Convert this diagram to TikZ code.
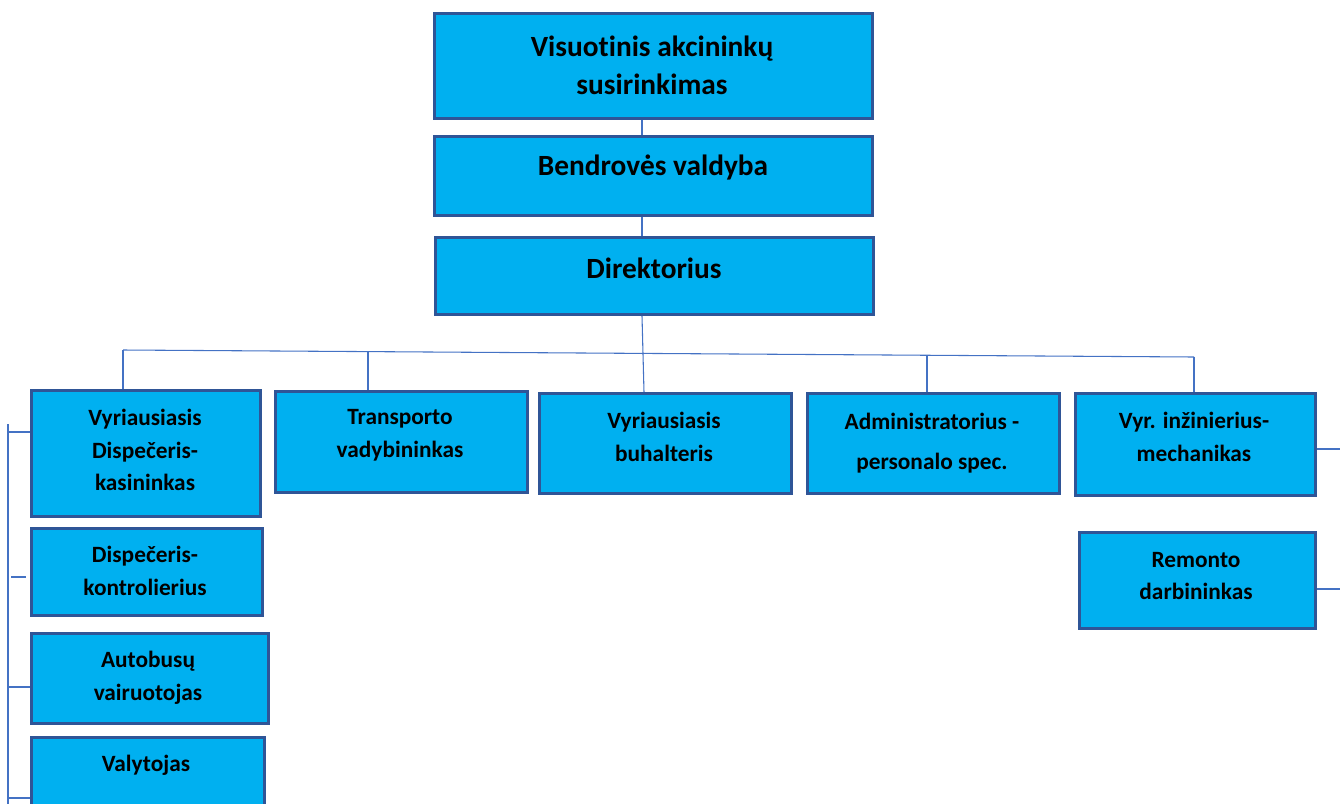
\documentclass[tikz,border=0pt]{standalone}
\usepackage{fontspec}
\setmainfont{Carlito}[RawFeature=-liga]
\usetikzlibrary{calc}

\definecolor{boxfill}{HTML}{00B0F0}
\definecolor{boxedge}{HTML}{2F5597}
\definecolor{linkblue}{HTML}{4472C4}

\tikzset{
  box/.style={draw=boxedge, line width=2.2pt, fill=boxfill, inner sep=0pt, anchor=north west},
  sz/.style 2 args={minimum width=#1*0.75pt, minimum height=#2*0.75pt},
  toptext/.style={font=\bfseries\fontsize{22}{28.5}\selectfont, align=center},
  subtext/.style={font=\bfseries\fontsize{17.5}{24.4}\selectfont, align=center},
  link/.style={draw=linkblue, line width=0.8pt}
}

\begin{document}
\begin{tikzpicture}[x=0.75pt,y=-0.75pt]
  \useasboundingbox (0,0) rectangle (1340,804);

  % top chain
  \node[box, sz={438}{105}] (vas) at (433,12) {};
  \node[box, sz={438}{79}]  (val) at (433,135) {};
  \node[box, sz={438}{77}]  (dir) at (434,236) {};
  \node[toptext] (vas-t) at (652,65)  {Visuotinis akcininkų\\susirinkimas};
  \node[toptext] (val-t) at (653,167) {Bendrovės valdyba};
  \node[toptext] (dir-t) at (654,268) {Direktorius};

  % second row
  \node[box, sz={229}{126}] (vdk) at (30,389)   {};
  \node[box, sz={252}{101}] (trv) at (274,390)  {};
  \node[box, sz={252}{100}] (buh) at (538,392)  {};
  \node[box, sz={252}{100}] (adm) at (806,392)  {};
  \node[box, sz={240}{102}] (vim) at (1074,392) {};
  \node[subtext] (vdk-t) at (145,450)  {Vyriausiasis\\Dispečeris-\\kasininkas};
  \node[subtext] (trv-t) at (400,435)  {Transporto\\vadybininkas};
  \node[subtext] (buh-t) at (664,437)  {Vyriausiasis\\buhalteris};
  \node[subtext, font=\bfseries\fontsize{17.5}{30}\selectfont] (adm-t) at (932,443) {Administratorius -\\personalo spec.};
  \node[subtext] (vim-t) at (1194,437) {Vyr. inžinierius-\\mechanikas};

  % left column
  \node[box, sz={231}{87}]  (dko) at (30,527)  {};
  \node[box, sz={237}{90}]  (aut) at (30,632)  {};
  \node[box, sz={233}{100}] (vly) at (30,736)  {};
  \node[subtext] (dko-t) at (145,571) {Dispečeris-\\kontrolierius};
  \node[subtext] (aut-t) at (148,678) {Autobusų\\vairuotojas};
  \node[subtext] (vly-t) at (146,765) {Valytojas};

  % right column
  \node[box, sz={236}{96}] (rem) at (1078,531) {};
  \node[subtext] (rem-t) at (1196,576) {Remonto\\darbininkas};

  % connectors
  \coordinate (trunk) at (642,0);
  \coordinate (busL) at (123,350);
  \coordinate (busR) at (1194,357);
  \draw[link] (vas.south -| trunk) -- (val.north -| trunk);
  \draw[link] (val.south -| trunk) -- (dir.north -| trunk);
  \draw[link] (dir.south -| trunk) -- ([xshift=1.5pt]buh.north -| trunk);
  \draw[link] (busL) -- (busR);
  \foreach \n/\x/\y in {vdk/123/350, trv/368/352, adm/927/355, vim/1194/357}
    \draw[link] (\x,\y) -- (\n.north -| \x,0);

  % left rail
  \coordinate (railT) at (8,424);
  \coordinate (railB) at (8,804);
  \draw[link] (railT) -- (railB);
  \draw[link] (8,432) -- (vdk.west |- 0,432);
  \draw[link] (11,577) -- (26,577);
  \draw[link] (8,687) -- (aut.west |- 0,687);
  \draw[link] (8,798) -- (vly.west |- 0,798);

  % right stubs
  \draw[link] (vim.east |- 0,449) -- (1340,449);
  \draw[link] (rem.east |- 0,589) -- (1340,589);
\end{tikzpicture}
\end{document}
